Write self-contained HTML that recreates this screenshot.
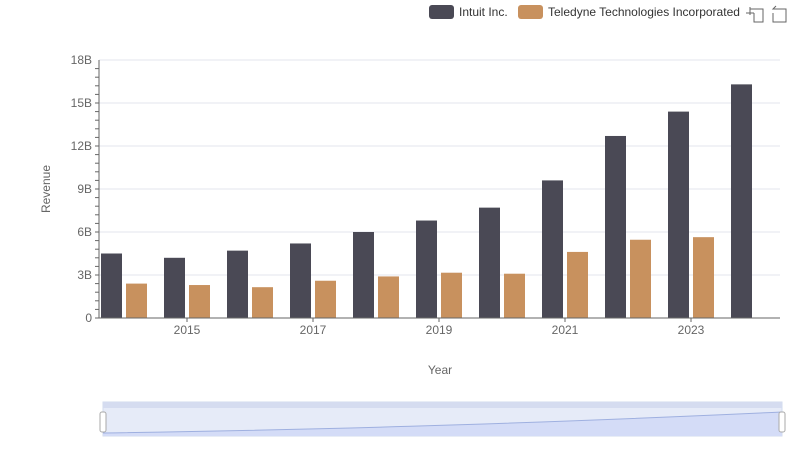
<!DOCTYPE html>
<html><head><meta charset="utf-8">
<style>
body{margin:0;background:#fff;font-family:"Liberation Sans",sans-serif;}
svg text{font-family:"Liberation Sans",sans-serif;}
</style></head>
<body>
<svg width="800" height="461">
<g>
  <g><rect x="429" y="5" width="25" height="14" rx="3" fill="#4a4955"/><text x="459" y="16" font-size="12" fill="#333">Intuit Inc.</text></g>
  <g><rect x="518" y="5" width="25" height="14" rx="3" fill="#c8915e"/><text x="548" y="16" font-size="12" fill="#333">Teledyne Technologies Incorporated</text></g>
  <g stroke="#666" fill="none"><path d="M750 9h13v13h-9v-9M746 13h8M750 7v8"/></g>
  <g stroke="#666" fill="none"><path d="M776 9h-3l3-3M773 9h13v13h-13v-9"/></g>
</g>
<g id="grid"></g>
<g id="bars"></g>
<g id="axes"></g>
<text x="50" y="189" font-size="12" fill="#666" transform="rotate(-90 50 189)" text-anchor="middle">Revenue</text>
<text x="440" y="374" font-size="12" fill="#666" text-anchor="middle">Year</text>
<g>
  <rect x="103" y="402" width="679" height="34" fill="#e6ebf8" stroke="#d2dbee"/>
  <rect x="103" y="402" width="679" height="6" fill="#d5dcf0"/>
  <path d="M103 433 C300 430 500 425 782 412 L782 436 L103 436Z" fill="#d4dcf7"/>
  <path d="M103 433 C300 430 500 425 782 412" stroke="#9fb0e0" fill="none"/>
  <rect x="100" y="412" width="6" height="20" rx="2" fill="#fff" stroke="#aaa"/>
  <rect x="779" y="412" width="6" height="20" rx="2" fill="#fff" stroke="#aaa"/>
</g>
</svg>
<script>
const years=["2014","2015","2016","2017","2018","2019","2020","2021","2022","2023","2024"];
const intuit=[4.5,4.2,4.7,5.2,6.0,6.8,7.7,9.6,12.7,14.4,16.3];
const teledyne=[2.4,2.3,2.15,2.6,2.9,3.16,3.09,4.61,5.46,5.64,null];
const yTicks=[0,3,6,9,12,15,18];
const yLabels=["0","3B","6B","9B","12B","15B","18B"];
const NS="http://www.w3.org/2000/svg";
const x0=92.5,bw=63,yb=318,ppu=258/18;
const y=v=>yb-v*ppu;
const bx=i=>x0+i*bw;
function mk(tag,attrs,parent){const e=document.createElementNS(NS,tag);for(const k in attrs)e.setAttribute(k,attrs[k]);document.getElementById(parent).appendChild(e);return e;}
yTicks.forEach((t,i)=>{
  if(t>0){const l=mk('line',{x1:99,x2:780,y1:y(t),y2:y(t),stroke:'#e3e6ee'},'grid');
  
  }
  const tx=mk('text',{x:92,y:y(t)+4,'font-size':12,fill:'#666','text-anchor':'end'},'axes');tx.textContent=yLabels[i];
  
  
});
for(let v=0;v<18;v+=0.6){const l=mk('line',{x1:95,x2:99,y1:y(v),y2:y(v),stroke:'#666'},'axes');
  
  }
mk('line',{x1:99,x2:99,y1:60,y2:318,stroke:'#666'},'axes');
const ax=mk('line',{x1:99,x2:780,y1:318,y2:318,stroke:'#666'},'axes');


years.forEach((yr,i)=>{
  if(intuit[i]!=null){const r=mk('rect',{x:bx(i)+8.5,y:y(intuit[i]),width:21,height:yb-y(intuit[i]),fill:'#4a4955'},'bars');
    
    }
  if(teledyne[i]!=null){const r=mk('rect',{x:bx(i)+33.5,y:y(teledyne[i]),width:21,height:yb-y(teledyne[i]),fill:'#c8915e'},'bars');
    
    }
  if(i%2==1){const c=bx(i)+bw/2;
    mk('line',{x1:c,x2:c,y1:318,y2:322,stroke:'#666'},'axes');
    const t=mk('text',{x:c,y:334,'font-size':12,fill:'#666','text-anchor':'middle'},'axes');t.textContent=yr;
    
    }
});
</script>
</body></html>
